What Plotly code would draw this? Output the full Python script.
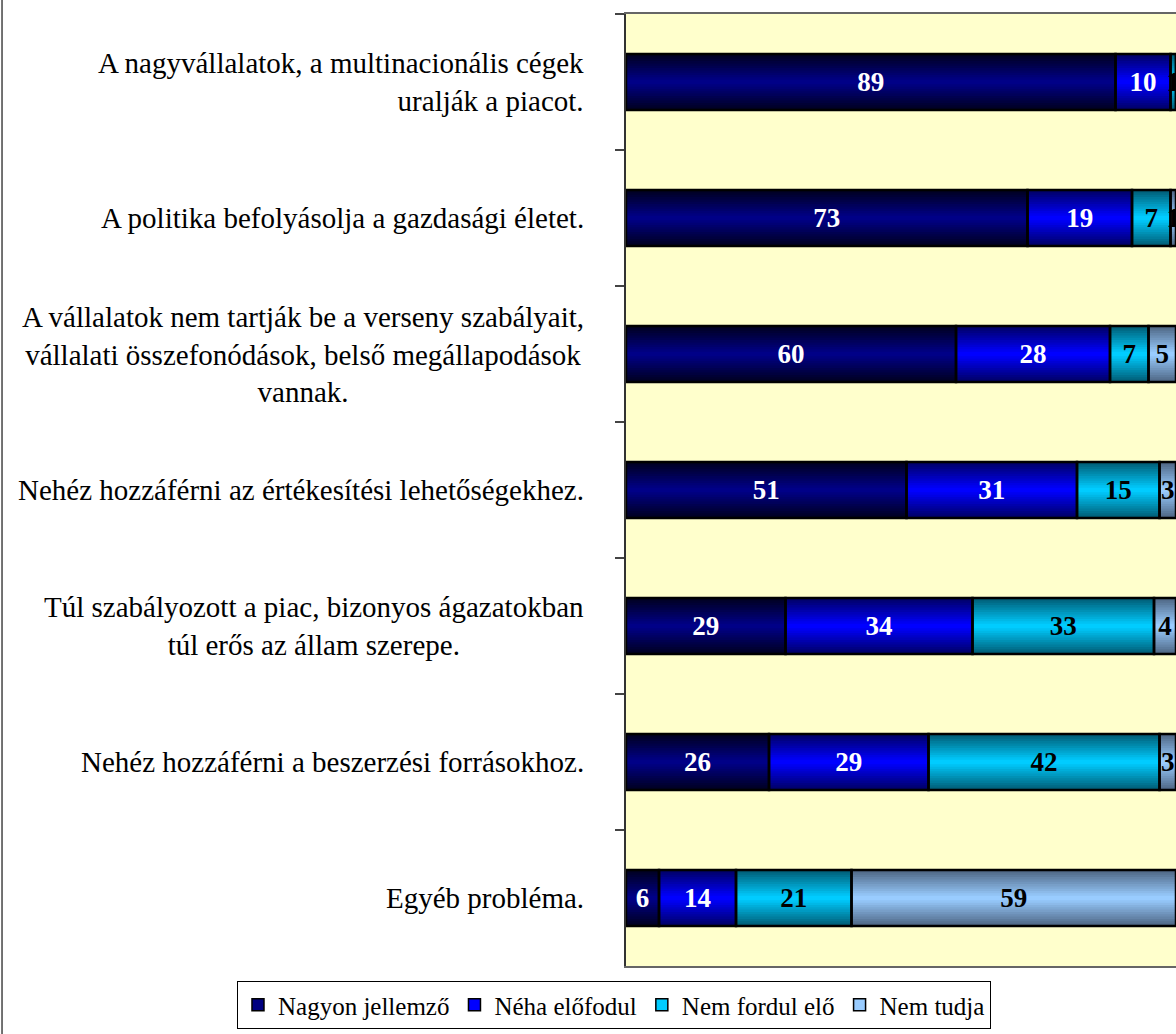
import plotly.graph_objects as go
import numpy as np

categories = [
    "A nagyvállalatok, a multinacionális cégek<br>uralják a piacot.",
    "A politika befolyásolja a gazdasági életet.",
    "A vállalatok nem tartják be a verseny szabályait,<br>vállalati összefonódások, belső megállapodások<br>vannak.",
    "Nehéz hozzáférni az értékesítési lehetőségekhez.",
    "Túl szabályozott a piac, bizonyos ágazatokban<br>túl erős az állam szerepe.",
    "Nehéz hozzáférni a beszerzési forrásokhoz.",
    "Egyéb probléma.",
]
series_names = ["Nagyon jellemző", "Néha előfodul", "Nem fordul elő", "Nem tudja"]
nagyon_jellemzo = [89, 73, 60, 51, 29, 26, 6]
neha_elofordul = [10, 19, 28, 31, 34, 29, 14]
nem_fordul_elo = [1, 7, 7, 15, 33, 42, 21]
nem_tudja = [0, 1, 5, 3, 4, 3, 59]

series_values = [nagyon_jellemzo, neha_elofordul, nem_fordul_elo, nem_tudja]
center_colors = [(0, 0, 135), (0, 0, 255), (0, 204, 255), (153, 204, 255)]
edge_colors = [(0, 0, 35), (0, 0, 105), (0, 95, 120), (80, 105, 135)]
center_hex = ["#000080", "#0000FF", "#00CCFF", "#99CCFF"]
text_colors = ["white", "white", "black", "black"]
label_align = ["right", "center", "center", "center", "center", "center", "center"]

FONT = "Liberation Serif, Times New Roman, serif"
BAR_W = 0.41
N_LAYERS = 12

fig = go.Figure()

bases = np.zeros(len(categories))
all_bases = []
for vals in series_values:
    all_bases.append(bases.copy())
    bases = bases + np.array(vals)

# gradient layers
for s, vals in enumerate(series_values):
    for k in range(N_LAYERS):
        t = k / (N_LAYERS - 1)
        c = tuple(int(round(edge_colors[s][i] + (center_colors[s][i] - edge_colors[s][i]) * t)) for i in range(3))
        w = BAR_W * (1 - k / N_LAYERS)
        fig.add_trace(go.Bar(
            y=categories, x=vals, base=all_bases[s], orientation="h",
            width=w, marker=dict(color="rgb(%d,%d,%d)" % c, line=dict(width=0)),
            showlegend=False, hoverinfo="skip",
        ))

# outlines + labels
for s, vals in enumerate(series_values):
    fig.add_trace(go.Bar(
        y=categories, x=vals, base=all_bases[s], orientation="h", width=BAR_W,
        marker=dict(color="rgba(0,0,0,0)", line=dict(color="black", width=2.5)),
        text=[str(v) if v > 0 else "" for v in vals],
        textposition="inside", insidetextanchor="middle", constraintext="none",
        textfont=dict(family=FONT, size=27, color=text_colors[s], weight="bold"),
        showlegend=False, hoverinfo="skip",
    ))

# legend entries
for s, name in enumerate(series_names):
    fig.add_trace(go.Bar(
        y=[None], x=[None], orientation="h", name=name,
        marker=dict(color=center_hex[s], line=dict(color="black", width=1.5)),
    ))

annotations = []
for cat, al in zip(categories, label_align):
    annotations.append(dict(
        text=cat, xref="paper", yref="y", x=-0.0727, y=cat,
        xanchor="right", yanchor="middle", align=al, showarrow=False,
        font=dict(family=FONT, size=29, color="black"),
    ))

fig.update_layout(
    width=1176, height=1034,
    margin=dict(l=626, r=0, t=14, b=68),
    barmode="overlay",
    plot_bgcolor="#FFFFCC", paper_bgcolor="white",
    font=dict(family=FONT, size=26, color="black"),
    annotations=annotations,
    legend=dict(
        orientation="h", x=-0.7073, xanchor="left", y=-0.041, yanchor="middle",
        bordercolor="black", borderwidth=1, bgcolor="white",
        font=dict(family=FONT, size=25, color="black"), traceorder="normal",
        itemwidth=30,
    ),
    shapes=[dict(type="line", xref="paper", yref="paper",
                 x0=-1.1345, x1=-1.1345, y0=-0.08, y1=1.02,
                 line=dict(color="#444", width=1.5))],
)
fig.update_xaxes(range=[0, 100], showticklabels=False, showgrid=False, zeroline=False,
                 showline=True, mirror=True, linecolor="#666", linewidth=1.5, ticks="")
fig.update_yaxes(type="category", autorange="reversed", showticklabels=False, showgrid=False,
                 tickson="boundaries", ticks="outside", ticklen=9, tickcolor="#444", tickwidth=1.5,
                 showline=True, linecolor="#333", linewidth=2)

fig.write_html("out.html", config={"displayModeBar": False},
               post_script="document.body.style.margin='0px';")
